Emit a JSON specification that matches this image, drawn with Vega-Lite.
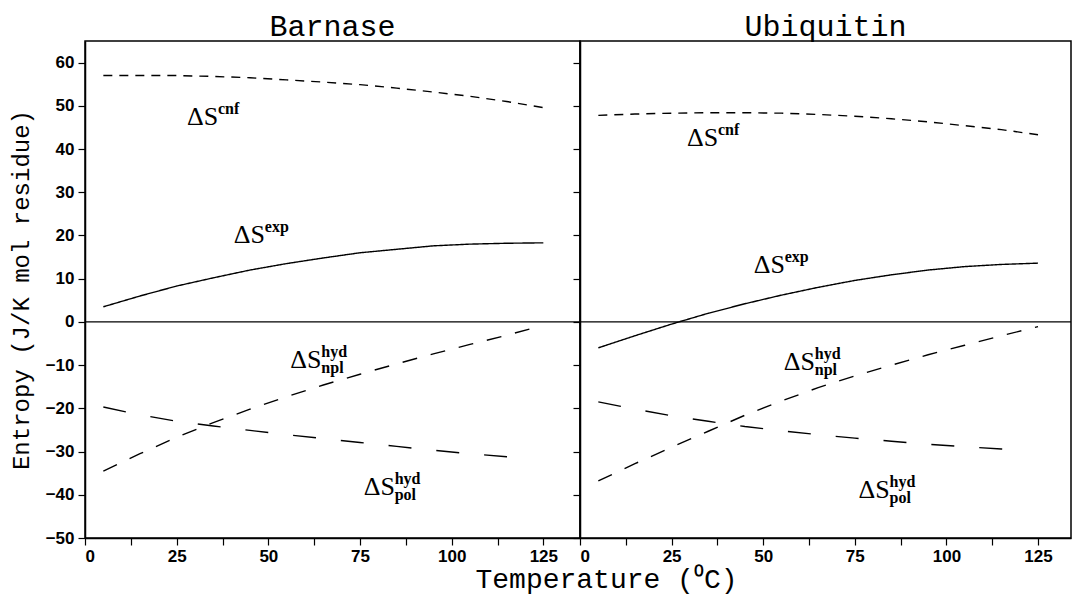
{
  "$schema": "https://vega.github.io/schema/vega-lite/v6.json",
  "background": "white",
  "padding": {"left": 8, "top": 11, "right": 0, "bottom": 0},
  "datasets": {
    "curves": [
      {"protein": "Barnase", "series": "cnf", "T": 5, "S": 57.0},
      {"protein": "Barnase", "series": "cnf", "T": 15, "S": 57.0},
      {"protein": "Barnase", "series": "cnf", "T": 25, "S": 57.0},
      {"protein": "Barnase", "series": "cnf", "T": 35, "S": 56.8},
      {"protein": "Barnase", "series": "cnf", "T": 45, "S": 56.5},
      {"protein": "Barnase", "series": "cnf", "T": 55, "S": 56.0},
      {"protein": "Barnase", "series": "cnf", "T": 65, "S": 55.5},
      {"protein": "Barnase", "series": "cnf", "T": 75, "S": 54.9},
      {"protein": "Barnase", "series": "cnf", "T": 85, "S": 54.1},
      {"protein": "Barnase", "series": "cnf", "T": 95, "S": 53.2},
      {"protein": "Barnase", "series": "cnf", "T": 105, "S": 52.2},
      {"protein": "Barnase", "series": "cnf", "T": 115, "S": 51.0},
      {"protein": "Barnase", "series": "cnf", "T": 125, "S": 49.6},
      {"protein": "Barnase", "series": "exp", "T": 5, "S": 3.5},
      {"protein": "Barnase", "series": "exp", "T": 15, "S": 6.0},
      {"protein": "Barnase", "series": "exp", "T": 25, "S": 8.3},
      {"protein": "Barnase", "series": "exp", "T": 35, "S": 10.2},
      {"protein": "Barnase", "series": "exp", "T": 45, "S": 12.0},
      {"protein": "Barnase", "series": "exp", "T": 55, "S": 13.5},
      {"protein": "Barnase", "series": "exp", "T": 65, "S": 14.8},
      {"protein": "Barnase", "series": "exp", "T": 75, "S": 16.0},
      {"protein": "Barnase", "series": "exp", "T": 85, "S": 16.8},
      {"protein": "Barnase", "series": "exp", "T": 95, "S": 17.6},
      {"protein": "Barnase", "series": "exp", "T": 105, "S": 18.0},
      {"protein": "Barnase", "series": "exp", "T": 115, "S": 18.2},
      {"protein": "Barnase", "series": "exp", "T": 125, "S": 18.3},
      {"protein": "Barnase", "series": "npl", "T": 5, "S": -34.5},
      {"protein": "Barnase", "series": "npl", "T": 15, "S": -30.5},
      {"protein": "Barnase", "series": "npl", "T": 25, "S": -26.7},
      {"protein": "Barnase", "series": "npl", "T": 35, "S": -23.3},
      {"protein": "Barnase", "series": "npl", "T": 45, "S": -20.2},
      {"protein": "Barnase", "series": "npl", "T": 55, "S": -17.3},
      {"protein": "Barnase", "series": "npl", "T": 65, "S": -14.6},
      {"protein": "Barnase", "series": "npl", "T": 75, "S": -12.1},
      {"protein": "Barnase", "series": "npl", "T": 85, "S": -9.7},
      {"protein": "Barnase", "series": "npl", "T": 95, "S": -7.4},
      {"protein": "Barnase", "series": "npl", "T": 105, "S": -5.2},
      {"protein": "Barnase", "series": "npl", "T": 115, "S": -3.1},
      {"protein": "Barnase", "series": "npl", "T": 124, "S": -1.0},
      {"protein": "Barnase", "series": "pol", "T": 5, "S": -19.7},
      {"protein": "Barnase", "series": "pol", "T": 15, "S": -21.5},
      {"protein": "Barnase", "series": "pol", "T": 25, "S": -23.0},
      {"protein": "Barnase", "series": "pol", "T": 35, "S": -24.1},
      {"protein": "Barnase", "series": "pol", "T": 45, "S": -25.1},
      {"protein": "Barnase", "series": "pol", "T": 55, "S": -26.1},
      {"protein": "Barnase", "series": "pol", "T": 65, "S": -27.0},
      {"protein": "Barnase", "series": "pol", "T": 75, "S": -27.9},
      {"protein": "Barnase", "series": "pol", "T": 85, "S": -28.8},
      {"protein": "Barnase", "series": "pol", "T": 95, "S": -29.7},
      {"protein": "Barnase", "series": "pol", "T": 105, "S": -30.5},
      {"protein": "Barnase", "series": "pol", "T": 115, "S": -31.2},
      {"protein": "Barnase", "series": "pol", "T": 120, "S": -31.5},
      {"protein": "Ubiquitin", "series": "cnf", "T": 5, "S": 47.8},
      {"protein": "Ubiquitin", "series": "cnf", "T": 15, "S": 48.1},
      {"protein": "Ubiquitin", "series": "cnf", "T": 25, "S": 48.3},
      {"protein": "Ubiquitin", "series": "cnf", "T": 35, "S": 48.4},
      {"protein": "Ubiquitin", "series": "cnf", "T": 45, "S": 48.4},
      {"protein": "Ubiquitin", "series": "cnf", "T": 55, "S": 48.3},
      {"protein": "Ubiquitin", "series": "cnf", "T": 65, "S": 48.0},
      {"protein": "Ubiquitin", "series": "cnf", "T": 75, "S": 47.6},
      {"protein": "Ubiquitin", "series": "cnf", "T": 85, "S": 47.0},
      {"protein": "Ubiquitin", "series": "cnf", "T": 95, "S": 46.3},
      {"protein": "Ubiquitin", "series": "cnf", "T": 105, "S": 45.4},
      {"protein": "Ubiquitin", "series": "cnf", "T": 115, "S": 44.5},
      {"protein": "Ubiquitin", "series": "cnf", "T": 125, "S": 43.3},
      {"protein": "Ubiquitin", "series": "exp", "T": 5, "S": -6.0},
      {"protein": "Ubiquitin", "series": "exp", "T": 15, "S": -3.2},
      {"protein": "Ubiquitin", "series": "exp", "T": 25, "S": -0.5},
      {"protein": "Ubiquitin", "series": "exp", "T": 35, "S": 2.0},
      {"protein": "Ubiquitin", "series": "exp", "T": 45, "S": 4.2},
      {"protein": "Ubiquitin", "series": "exp", "T": 55, "S": 6.2},
      {"protein": "Ubiquitin", "series": "exp", "T": 65, "S": 8.0},
      {"protein": "Ubiquitin", "series": "exp", "T": 75, "S": 9.6},
      {"protein": "Ubiquitin", "series": "exp", "T": 85, "S": 10.9},
      {"protein": "Ubiquitin", "series": "exp", "T": 95, "S": 12.0},
      {"protein": "Ubiquitin", "series": "exp", "T": 105, "S": 12.8},
      {"protein": "Ubiquitin", "series": "exp", "T": 115, "S": 13.3},
      {"protein": "Ubiquitin", "series": "exp", "T": 125, "S": 13.6},
      {"protein": "Ubiquitin", "series": "npl", "T": 5, "S": -36.8},
      {"protein": "Ubiquitin", "series": "npl", "T": 15, "S": -32.8},
      {"protein": "Ubiquitin", "series": "npl", "T": 25, "S": -29.0},
      {"protein": "Ubiquitin", "series": "npl", "T": 35, "S": -25.3},
      {"protein": "Ubiquitin", "series": "npl", "T": 45, "S": -21.6},
      {"protein": "Ubiquitin", "series": "npl", "T": 55, "S": -18.3},
      {"protein": "Ubiquitin", "series": "npl", "T": 65, "S": -15.2},
      {"protein": "Ubiquitin", "series": "npl", "T": 75, "S": -12.5},
      {"protein": "Ubiquitin", "series": "npl", "T": 85, "S": -10.0},
      {"protein": "Ubiquitin", "series": "npl", "T": 95, "S": -7.6},
      {"protein": "Ubiquitin", "series": "npl", "T": 105, "S": -5.4},
      {"protein": "Ubiquitin", "series": "npl", "T": 115, "S": -3.2},
      {"protein": "Ubiquitin", "series": "npl", "T": 125, "S": -1.1},
      {"protein": "Ubiquitin", "series": "pol", "T": 5, "S": -18.5},
      {"protein": "Ubiquitin", "series": "pol", "T": 15, "S": -20.2},
      {"protein": "Ubiquitin", "series": "pol", "T": 25, "S": -21.7},
      {"protein": "Ubiquitin", "series": "pol", "T": 35, "S": -23.0},
      {"protein": "Ubiquitin", "series": "pol", "T": 45, "S": -24.2},
      {"protein": "Ubiquitin", "series": "pol", "T": 55, "S": -25.2},
      {"protein": "Ubiquitin", "series": "pol", "T": 65, "S": -26.1},
      {"protein": "Ubiquitin", "series": "pol", "T": 75, "S": -26.9},
      {"protein": "Ubiquitin", "series": "pol", "T": 85, "S": -27.6},
      {"protein": "Ubiquitin", "series": "pol", "T": 95, "S": -28.3},
      {"protein": "Ubiquitin", "series": "pol", "T": 105, "S": -28.9},
      {"protein": "Ubiquitin", "series": "pol", "T": 115, "S": -29.4},
      {"protein": "Ubiquitin", "series": "pol", "T": 120, "S": -29.6}
    ],
    "labels": [
      {"protein": "Barnase", "T": 27.8, "S": 45.6, "main": "ΔS", "sup": "cnf", "sub": ""},
      {"protein": "Barnase", "T": 40.6, "S": 18.3, "main": "ΔS", "sup": "exp", "sub": ""},
      {"protein": "Barnase", "T": 56.0, "S": -10.7, "main": "ΔS", "sup": "hyd", "sub": "npl"},
      {"protein": "Barnase", "T": 76.0, "S": -40.0, "main": "ΔS", "sup": "hyd", "sub": "pol"},
      {"protein": "Ubiquitin", "T": 29.2, "S": 40.8, "main": "ΔS", "sup": "cnf", "sub": ""},
      {"protein": "Ubiquitin", "T": 47.4, "S": 11.3, "main": "ΔS", "sup": "exp", "sub": ""},
      {"protein": "Ubiquitin", "T": 55.6, "S": -11.1, "main": "ΔS", "sup": "hyd", "sub": "npl"},
      {"protein": "Ubiquitin", "T": 76.0, "S": -40.8, "main": "ΔS", "sup": "hyd", "sub": "pol"}
    ]
  },
  "hconcat": [
    {
      "width": 495,
      "height": 497,
      "title": {"text": "Barnase", "font": "Liberation Mono", "fontSize": 30, "fontWeight": "normal", "color": "black", "offset": -1},
      "layer": [
        {
          "data": {"values": [{"z": 0}]},
          "mark": {"type": "rule", "color": "black", "strokeWidth": 1.3},
          "encoding": {"y": {"field": "z", "type": "quantitative"}}
        },
        {
          "data": {"name": "curves"},
          "transform": [{"filter": "datum.protein === 'Barnase'"}],
          "mark": {"type": "line", "color": "black", "strokeWidth": 1.4},
          "encoding": {
            "x": {"field": "T", "type": "quantitative", "scale": {"domain": [0, 135], "nice": false},
              "axis": {"values": [0, 12.5, 25, 37.5, 50, 62.5, 75, 87.5, 100, 112.5, 125],
                "labelExpr": "datum.value % 25 === 0 ? datum.label : ''",
                "title": "Temperature (⁰C)", "titleX": 521, "titleAlign": "center", "titlePadding": 1}},
            "y": {"field": "S", "type": "quantitative", "scale": {"domain": [-50, 65], "nice": false},
              "axis": {"values": [-50, -45, -40, -35, -30, -25, -20, -15, -10, -5, 0, 5, 10, 15, 20, 25, 30, 35, 40, 45, 50, 55, 60],
                "labelExpr": "datum.value % 10 === 0 ? datum.label : ''",
                "title": "Entropy (J/K mol residue)", "titlePadding": 12}},
            "strokeDash": {"field": "series", "type": "nominal",
              "scale": {"domain": ["cnf", "exp", "npl", "pol"], "range": [[9, 7], [1, 0], [15, 14], [23, 25]]},
              "legend": null}
          }
        },
        {
          "data": {"name": "labels"},
          "transform": [{"filter": "datum.protein === 'Barnase'"}],
          "mark": {"type": "text", "font": "Liberation Serif", "fontSize": 26, "align": "left", "baseline": "alphabetic", "color": "black"},
          "encoding": {"x": {"field": "T", "type": "quantitative"}, "y": {"field": "S", "type": "quantitative"}, "text": {"field": "main"}}
        },
        {
          "data": {"name": "labels"},
          "transform": [{"filter": "datum.protein === 'Barnase'"}],
          "mark": {"type": "text", "font": "Liberation Serif", "fontSize": 16, "fontWeight": "bold", "align": "left", "baseline": "alphabetic", "dx": 31, "dy": -11, "color": "black"},
          "encoding": {"x": {"field": "T", "type": "quantitative"}, "y": {"field": "S", "type": "quantitative"}, "text": {"field": "sup"}}
        },
        {
          "data": {"name": "labels"},
          "transform": [{"filter": "datum.protein === 'Barnase'"}],
          "mark": {"type": "text", "font": "Liberation Serif", "fontSize": 16, "fontWeight": "bold", "align": "left", "baseline": "alphabetic", "dx": 31, "dy": 5, "color": "black"},
          "encoding": {"x": {"field": "T", "type": "quantitative"}, "y": {"field": "S", "type": "quantitative"}, "text": {"field": "sub"}}
        }
      ]
    },
    {
      "width": 491,
      "height": 497,
      "title": {"text": "Ubiquitin", "font": "Liberation Mono", "fontSize": 30, "fontWeight": "normal", "color": "black", "offset": -1},
      "layer": [
        {
          "data": {"values": [{"z": 0}]},
          "mark": {"type": "rule", "color": "black", "strokeWidth": 1.3},
          "encoding": {"y": {"field": "z", "type": "quantitative"}}
        },
        {
          "data": {"name": "curves"},
          "transform": [{"filter": "datum.protein === 'Ubiquitin'"}],
          "mark": {"type": "line", "color": "black", "strokeWidth": 1.4},
          "encoding": {
            "x": {"field": "T", "type": "quantitative", "scale": {"domain": [0, 134], "nice": false},
              "axis": {"values": [0, 12.5, 25, 37.5, 50, 62.5, 75, 87.5, 100, 112.5, 125],
                "labelExpr": "datum.value % 25 === 0 ? datum.label : ''",
                "title": null}},
            "y": {"field": "S", "type": "quantitative", "scale": {"domain": [-50, 65], "nice": false},
              "axis": {"values": [-50, -45, -40, -35, -30, -25, -20, -15, -10, -5, 0, 5, 10, 15, 20, 25, 30, 35, 40, 45, 50, 55, 60],
                "labels": false, "title": null}},
            "strokeDash": {"field": "series", "type": "nominal",
              "scale": {"domain": ["cnf", "exp", "npl", "pol"], "range": [[9, 7], [1, 0], [15, 14], [23, 25]]},
              "legend": null}
          }
        },
        {
          "data": {"name": "labels"},
          "transform": [{"filter": "datum.protein === 'Ubiquitin'"}],
          "mark": {"type": "text", "font": "Liberation Serif", "fontSize": 26, "align": "left", "baseline": "alphabetic", "color": "black"},
          "encoding": {"x": {"field": "T", "type": "quantitative"}, "y": {"field": "S", "type": "quantitative"}, "text": {"field": "main"}}
        },
        {
          "data": {"name": "labels"},
          "transform": [{"filter": "datum.protein === 'Ubiquitin'"}],
          "mark": {"type": "text", "font": "Liberation Serif", "fontSize": 16, "fontWeight": "bold", "align": "left", "baseline": "alphabetic", "dx": 31, "dy": -11, "color": "black"},
          "encoding": {"x": {"field": "T", "type": "quantitative"}, "y": {"field": "S", "type": "quantitative"}, "text": {"field": "sup"}}
        },
        {
          "data": {"name": "labels"},
          "transform": [{"filter": "datum.protein === 'Ubiquitin'"}],
          "mark": {"type": "text", "font": "Liberation Serif", "fontSize": 16, "fontWeight": "bold", "align": "left", "baseline": "alphabetic", "dx": 31, "dy": 5, "color": "black"},
          "encoding": {"x": {"field": "T", "type": "quantitative"}, "y": {"field": "S", "type": "quantitative"}, "text": {"field": "sub"}}
        }
      ]
    }
  ],
  "spacing": 0,
  "bounds": "flush",
  "config": {
    "view": {"stroke": "black", "strokeWidth": 1.5},
    "axis": {
      "grid": false,
      "domainColor": "black", "domainWidth": 1.5,
      "tickColor": "black", "tickWidth": 1.2, "tickSize": 7,
      "labelColor": "black", "labelFont": "Liberation Sans", "labelFontSize": 17, "labelFontWeight": "bold", "labelPadding": 4,
      "titleColor": "black", "titleFont": "Liberation Mono", "titleFontWeight": "normal", "titleFontSize": 24
    },
    "axisX": {"titleFontSize": 28, "labelPadding": 3},
    "title": {"anchor": "middle"}
  }
}
